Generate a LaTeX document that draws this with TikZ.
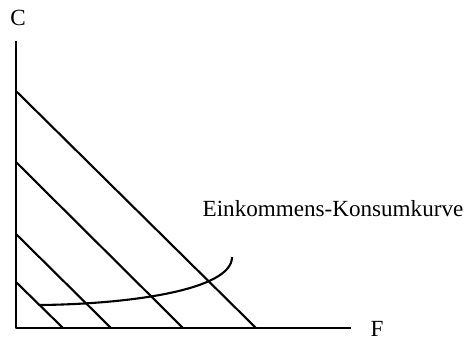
\documentclass[tikz,border=0pt]{standalone}
\usepackage{fontspec}
\setmainfont{Liberation Serif}
\usepackage{xcolor}
\usepackage{tikz}
\usetikzlibrary{positioning}
\definecolor{hhInk}{HTML}{000000}
\tikzset{
  hh diagram/.style={font=\fontsize{11.6}{13}\selectfont, text=hhInk,
    x=0.5bp, y=-0.5bp, line join=round},
  hh axis/.style={draw=hhInk, line width=1.05bp},
  hh budget/.style={draw=hhInk, line width=1.05bp},
  hh curve/.style={draw=hhInk, line width=1.05bp},
  hh label/.style={inner sep=0pt}
}
\begin{document}
\begin{tikzpicture}[hh diagram]
\useasboundingbox (0,0) rectangle (475,340);
% axes
\coordinate (o) at (16,328);
\coordinate (ctop) at (16,41);
\coordinate (fend) at (351,328);
\draw[hh axis] (ctop) -- (o) -- (fend);
\node[hh label] (cl) at (18,18) {C};
\node[hh label] (fl) at (377,329) {F};
% budget lines
\coordinate (b1c) at (16,282);  \coordinate (b1f) at (63,328);
\coordinate (b2c) at (16,234);  \coordinate (b2f) at (111,328);
\coordinate (b3c) at (16,162);  \coordinate (b3f) at (183,328);
\coordinate (b4c) at (16,91);   \coordinate (b4f) at (256,328);
\draw[hh budget] (b1c) -- (b1f);
\draw[hh budget] (b2c) -- (b2f);
\draw[hh budget] (b3c) -- (b3f);
\draw[hh budget] (b4c) -- (b4f);
% income-consumption curve
\coordinate (ks) at (40,305);
\coordinate (ke) at (232,257);
\draw[hh curve] (ks) .. controls (130,304) and (232,290) .. (ke);
\node[hh label] (kl) at (333,209) {Einkommens-Konsumkurve};
\end{tikzpicture}
\end{document}
